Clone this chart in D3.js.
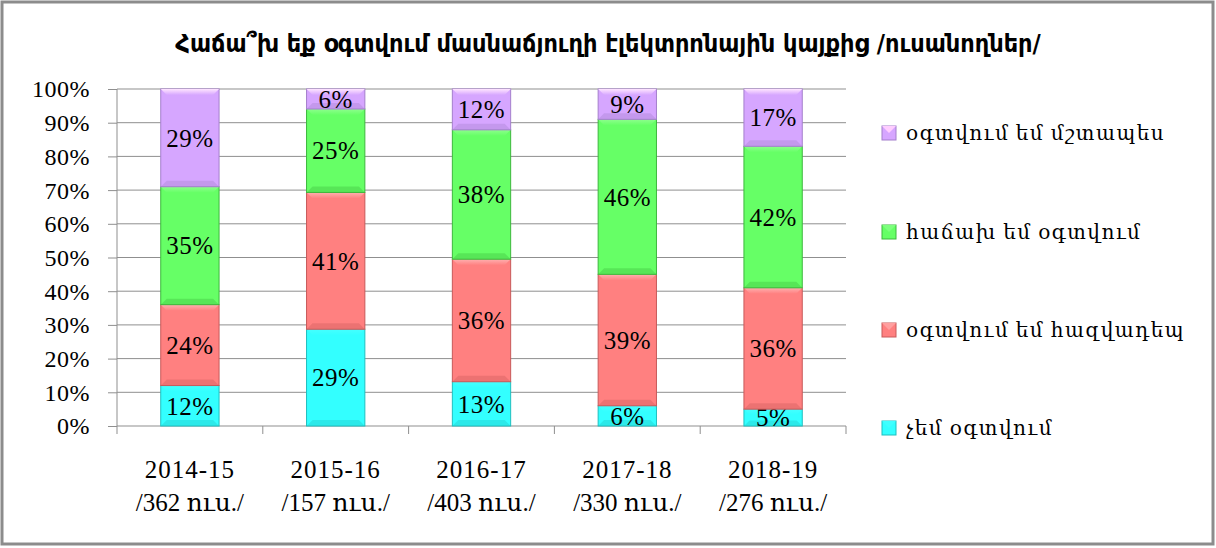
<!DOCTYPE html>
<html>
<head>
<meta charset="utf-8">
<script src="https://cdn.jsdelivr.net/npm/d3@7"></script>
<style>
  body { margin: 0; background: #fff; }
  svg text { font-family: "Liberation Serif", "DejaVu Serif", serif; fill: #000; }
</style>
</head>
<body>
<div id="chart"></div>
<script>
// chart values
var years = ["2014-15", "2015-16", "2016-17", "2017-18", "2018-19"];
var studentCounts = ["/362 ուս./", "/157 ուս./", "/403 ուս./", "/330 ուս./", "/276 ուս./"];
var seriesNames = ["չեմ օգտվում", "օգտվում եմ հազվադեպ", "հաճախ եմ օգտվում", "օգտվում եմ մշտապես"];
var neverUse = [12, 29, 13, 6, 5];
var rarelyUse = [24, 41, 36, 39, 36];
var oftenUse = [35, 25, 38, 46, 42];
var alwaysUse = [29, 6, 12, 9, 17];
var yTicks = [0, 0.1, 0.2, 0.3, 0.4, 0.5, 0.6, 0.7, 0.8, 0.9, 1];
var titleText = "Հաճա՞խ եք օգտվում մասնաճյուղի էլեկտրոնային կայքից  /ուսանողներ/";

var fills = ["#33FFFF", "#FF8080", "#66FF66", "#D6A6FF"];
var edges = ["#1FBFBF", "#C85A5A", "#3DB83D", "#A47FCC"];

var width = 1216, height = 548;
var margins = {left: 117, right: 370, top: 89, bottom: 122};
var plotW = width - margins.left - margins.right;
var plotH = height - margins.top - margins.bottom;

var rows = years.map(function(y, i) {
    return {year: y, s0: neverUse[i], s1: rarelyUse[i], s2: oftenUse[i], s3: alwaysUse[i]};
});
var keys = ["s0", "s1", "s2", "s3"];
var stacked = d3.stack().keys(keys).offset(d3.stackOffsetExpand)(rows);

var canvas = d3.select("#chart").append("svg")
    .attr("width", width).attr("height", height);

// outer frame
canvas.append("rect")
    .attr("x", 2).attr("y", 2).attr("width", width - 5).attr("height", height - 6)
    .attr("fill", "#fff").attr("stroke", "#8c8c8c").attr("stroke-width", 3);

canvas.append("text")
    .attr("x", 608).attr("y", 52)
    .attr("text-anchor", "middle")
    .style("font-family", "'DejaVu Sans Condensed', 'DejaVu Sans', sans-serif")
    .style("font-size", "25px").style("font-weight", "bold")
    .text(titleText);

var svg = canvas.append("g")
    .attr("transform", "translate(" + margins.left + "," + margins.top + ")");

var xScale = d3.scaleBand().domain(years).range([0, plotW]).paddingInner(0.6).paddingOuter(0.3);
var xBand = d3.scaleBand().domain(years).range([0, plotW]);
var yScale = d3.scaleLinear().domain([0, 1]).range([plotH, 0]);

// gridlines
svg.append("g").selectAll("line")
    .data(yTicks.slice(1))
    .enter().append("line")
    .attr("x1", 0).attr("x2", plotW)
    .attr("y1", function(d) { return yScale(d); })
    .attr("y2", function(d) { return yScale(d); })
    .attr("stroke", "#8f8f8f").attr("stroke-width", 1);

// y axis
var yAxis = d3.axisLeft(yScale).tickValues(yTicks).tickFormat(d3.format(".0%")).tickSize(9).tickPadding(18);
var yAxisContainer = svg.append("g").call(yAxis);
yAxisContainer.select(".domain").attr("stroke", "#8f8f8f").attr("d", "M0,0V" + plotH);
yAxisContainer.selectAll(".tick line").attr("stroke", "#8f8f8f");
yAxisContainer.selectAll("text")
    .style("font-family", "'Liberation Serif', serif")
    .style("font-size", "24px").style("letter-spacing", "0.5px").attr("dy", "0.33em");

// x axis: ticks at band boundaries
var xAxisContainer = svg.append("g").attr("transform", "translate(0," + plotH + ")");
xAxisContainer.append("line").attr("x1", 0).attr("x2", plotW).attr("y1", 0).attr("y2", 0).attr("stroke", "#8f8f8f");
xAxisContainer.selectAll("line.tk")
    .data(years.concat(["end"]))
    .enter().append("line").attr("class", "tk")
    .attr("x1", function(d, i) { return i * xBand.bandwidth(); })
    .attr("x2", function(d, i) { return i * xBand.bandwidth(); })
    .attr("y1", 0).attr("y2", 8)
    .attr("stroke", "#8f8f8f");

var labelGroups = xAxisContainer.selectAll("g.lbl")
    .data(years)
    .enter().append("g").attr("class", "lbl")
    .attr("transform", function(d) { return "translate(" + (xScale(d) + xScale.bandwidth() / 2) + ",0)"; });
labelGroups.append("text")
    .attr("y", 52).attr("text-anchor", "middle").style("font-size", "25px").style("letter-spacing", "1px")
    .text(function(d) { return d; });
labelGroups.append("text")
    .attr("y", 85).attr("text-anchor", "middle").style("font-size", "25px")
    .text(function(d, i) { return studentCounts[i]; });

// gradients for a bevelled look
var defs = canvas.append("defs");
fills.forEach(function(c, i) {
    var g = defs.append("linearGradient").attr("id", "hl" + i)
        .attr("x1", 0).attr("y1", 0).attr("x2", 0).attr("y2", 1);
    g.append("stop").attr("offset", "0%").attr("stop-color", d3.color(c).brighter(0.9));
    g.append("stop").attr("offset", "100%").attr("stop-color", c);
});

// bars
var seriesContainer = svg.append("g");
stacked.forEach(function(layer, si) {
    var g = seriesContainer.append("g");
    layer.forEach(function(seg, ci) {
        var x = xScale(years[ci]);
        var w = xScale.bandwidth();
        var y0 = yScale(seg[1]);
        var h = yScale(seg[0]) - yScale(seg[1]);
        g.append("rect")
            .attr("x", x).attr("y", y0).attr("width", w).attr("height", h)
            .attr("fill", fills[si]).attr("stroke", edges[si]).attr("stroke-width", 1);
        // top highlight bevel
        var b = Math.min(6, h / 3);
        g.append("path")
            .attr("d", "M" + x + "," + y0 + "H" + (x + w) + "L" + (x + w - b) + "," + (y0 + b) + "H" + (x + b) + "Z")
            .attr("fill", "url(#hl" + si + ")");
        // bottom shade bevel
        g.append("path")
            .attr("d", "M" + x + "," + (y0 + h) + "H" + (x + w) + "L" + (x + w - b) + "," + (y0 + h - b) + "H" + (x + b) + "Z")
            .attr("fill", edges[si]).attr("opacity", 0.35);
        var val = [neverUse, rarelyUse, oftenUse, alwaysUse][si][ci];
        g.append("text")
            .attr("x", x + w / 2).attr("y", y0 + h / 2).attr("dy", "0.35em")
            .attr("text-anchor", "middle").style("font-size", "25px").style("letter-spacing", "0.5px")
            .text(val + "%");
    });
});

// legend (reverse order, top = last series)
var legendY = [133, 232, 330, 428];
var legend = canvas.append("g");
[3, 2, 1, 0].forEach(function(si, k) {
    var row = legend.append("g").attr("transform", "translate(882," + legendY[k] + ")");
    row.append("rect").attr("x", 0).attr("y", -7).attr("width", 14).attr("height", 14)
        .attr("fill", fills[si]).attr("stroke", edges[si]);
    row.append("path").attr("d", "M0,-7H14L7,0Z").attr("fill", d3.color(fills[si]).brighter(0.6));
    row.append("text").attr("x", 24).attr("y", 0).attr("dy", "0.35em")
        .style("font-size", "20px").style("letter-spacing", "1.5px")
        .text(seriesNames[si]);
});
</script>
</body>
</html>
